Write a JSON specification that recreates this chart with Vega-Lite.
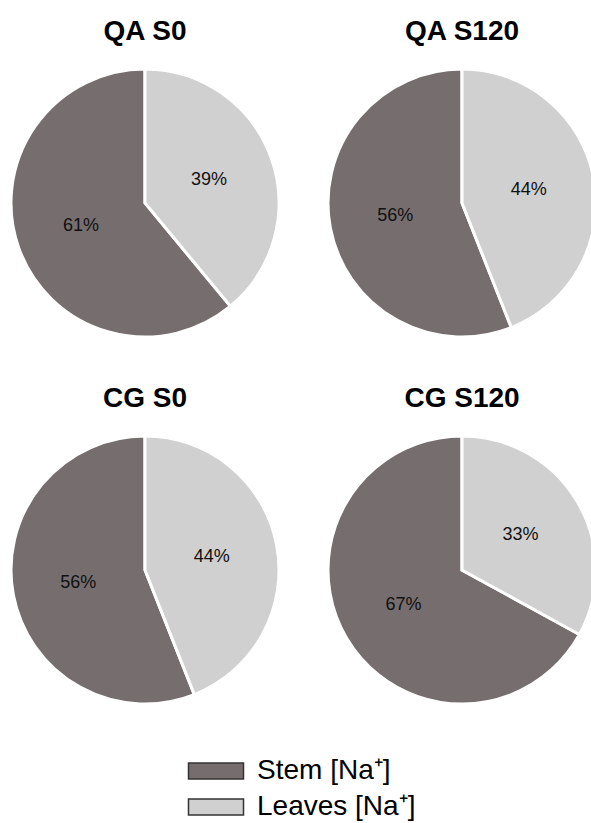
{
  "$schema": "https://vega.github.io/schema/vega-lite/v6.json",
  "background": "white",
  "padding": {"left": 5, "top": 18, "right": 0, "bottom": 0},
  "data": {"values": [
    {"panel": "QA S0", "part": "Stem [Na⁺]", "share": 0.61},
    {"panel": "QA S0", "part": "Leaves [Na⁺]", "share": 0.39},
    {"panel": "QA S120", "part": "Stem [Na⁺]", "share": 0.56},
    {"panel": "QA S120", "part": "Leaves [Na⁺]", "share": 0.44},
    {"panel": "CG S0", "part": "Stem [Na⁺]", "share": 0.56},
    {"panel": "CG S0", "part": "Leaves [Na⁺]", "share": 0.44},
    {"panel": "CG S120", "part": "Stem [Na⁺]", "share": 0.67},
    {"panel": "CG S120", "part": "Leaves [Na⁺]", "share": 0.33}
  ]},
  "facet": {
    "field": "panel", "type": "nominal",
    "sort": ["QA S0", "QA S120", "CG S0", "CG S120"],
    "header": {"title": null, "labelFont": "Liberation Sans", "labelFontSize": 28, "labelFontWeight": "bold", "labelColor": "#000", "labelPadding": 17}
  },
  "columns": 2,
  "spacing": {"column": 37, "row": 42},
  "spec": {
    "width": 268,
    "height": 268,
    "layer": [
      {
        "mark": {"type": "arc", "stroke": "white", "strokeWidth": 3},
        "encoding": {
          "theta": {"field": "share", "type": "quantitative", "stack": true},
          "order": {"field": "part", "sort": "ascending"},
          "color": {
            "field": "part", "type": "nominal",
            "scale": {"domain": ["Stem [Na⁺]", "Leaves [Na⁺]"], "range": ["#766e6e", "#d0d0d0"]},
            "legend": {
              "title": null, "orient": "none", "legendX": 191, "legendY": 688,
              "symbolType": "M-2.75,-0.8H2.75V0.8H-2.75Z", "symbolSize": 400,
              "symbolStrokeColor": "#333", "symbolStrokeWidth": 1.5, "symbolOpacity": 1,
              "labelFont": "Liberation Sans", "labelFontSize": 28, "labelColor": "#000",
              "labelOffset": 27, "rowPadding": 8, "labelLimit": 400
            }
          }
        }
      },
      {
        "mark": {"type": "text", "radius": 68, "font": "Liberation Sans", "fontSize": 18, "color": "#111"},
        "encoding": {
          "theta": {"field": "share", "type": "quantitative", "stack": true},
          "order": {"field": "part", "sort": "ascending"},
          "text": {"field": "share", "type": "quantitative", "format": ".0%"}
        }
      }
    ]
  },
  "config": {"view": {"stroke": null}}
}
